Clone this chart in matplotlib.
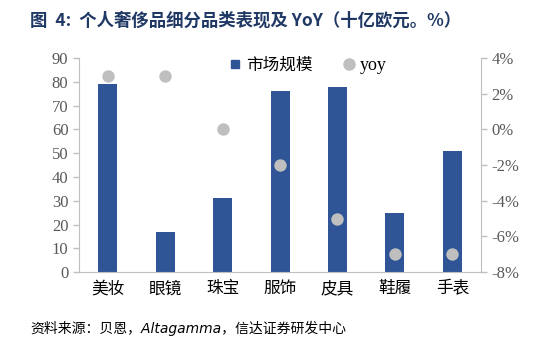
import numpy as np
import matplotlib.pyplot as plt
from matplotlib.lines import Line2D
from matplotlib.ticker import FuncFormatter

plt.rcParams['font.family'] = ['Liberation Serif', 'Noto Sans CJK SC']

categories = ['美妆', '眼镜', '珠宝', '服饰', '皮具', '鞋履', '手表']
market_size = [79, 17, 31, 76, 78, 25, 51]
yoy = [3, 3, 0, -2, -5, -7, -7]

bar_color = '#2F5597'
dot_color = '#BFBFBF'
axis_color = '#BFBFBF'
text_color = '#595959'

fig = plt.figure(figsize=(5.48, 3.44), dpi=100)
ax = fig.add_axes([0.144, 0.209, 0.734, 0.622])
ax2 = ax.twinx()

x = np.arange(len(categories))
ax.bar(x, market_size, width=0.33, color=bar_color, zorder=2)
ax2.scatter(x, yoy, s=80, color=dot_color, zorder=3, linewidths=0)

ax.set_ylim(0, 90)
ax.set_yticks(np.arange(0, 91, 10))
ax.set_xlim(-0.5, len(categories) - 0.5)
ax.set_xticks(x)
ax.set_xticklabels(categories, fontsize=12, color='black', family=['Noto Sans CJK SC'])
ax2.set_ylim(-8, 4)
ax2.set_yticks(np.arange(-8, 5, 2))
ax2.yaxis.set_major_formatter(FuncFormatter(lambda v, p: '%d%%' % v))

for a in (ax, ax2):
    for s in a.spines.values():
        s.set_visible(False)
    a.tick_params(axis='y', colors=axis_color, labelcolor=text_color, labelsize=12, length=4, width=1)
ax.spines['left'].set_visible(True)
ax.spines['left'].set_color(axis_color)
ax.spines['bottom'].set_visible(True)
ax.spines['bottom'].set_color(axis_color)
ax2.spines['right'].set_visible(True)
ax2.spines['right'].set_color(axis_color)
ax.tick_params(axis='x', length=0, pad=6)

handles = [Line2D([], [], marker='s', color=bar_color, linestyle='none', markersize=6),
           Line2D([], [], marker='o', color=dot_color, linestyle='none', markersize=8)]
leg = ax.legend(handles, ['市场规模', 'yoy'], loc='upper center', bbox_to_anchor=(0.565, 1.075),
                ncol=2, frameon=False, handletextpad=0.05, columnspacing=1.6, handlelength=1.2,
                prop={'family': ['Noto Sans CJK SC', 'Liberation Serif'], 'size': 12})
leg.get_texts()[1].set_family('Liberation Serif')
leg.get_texts()[1].set_fontsize(13)

fig.text(0.055, 0.94, '图  4:  个人奢侈品细分品类表现及 YoY（十亿欧元。%）', fontsize=12.5,
         fontweight='bold', color='#1F3864', family=['Noto Sans CJK SC', 'DejaVu Sans'], va='center')
fig.text(0.055, 0.045, '资料来源：贝恩，Altagamma，信达证券研发中心', fontsize=10, style='italic',
         color='black', family=['DejaVu Sans', 'Noto Sans CJK SC'], va='center')

fig.savefig('out.png', dpi=100)
